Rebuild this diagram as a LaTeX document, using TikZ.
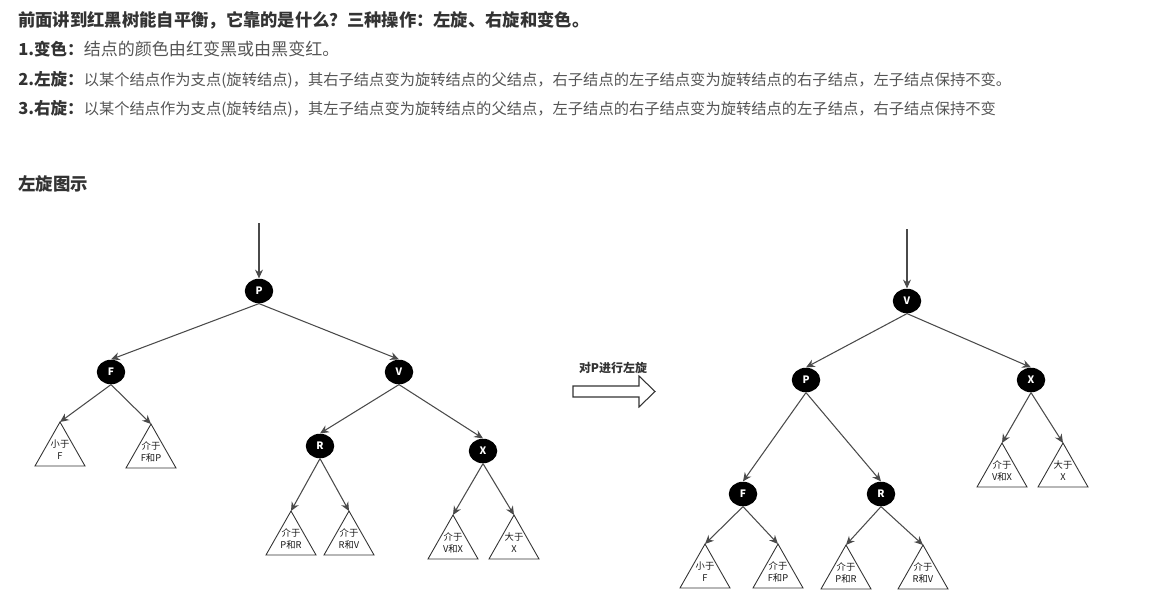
\documentclass[tikz,border=0pt]{standalone}
\usepackage{fontspec}
\setmainfont{Noto Sans CJK SC}
\usetikzlibrary{arrows.meta, shapes.geometric, positioning}
\definecolor{txtdark}{HTML}{333333}
\definecolor{txtgrey}{HTML}{555555}
\definecolor{edgegrey}{HTML}{4A4A4A}

\tikzset{
  rbnode/.style={ellipse, fill=black, text=white, font=\bfseries\fontsize{5.8}{7}\selectfont,
    minimum width=0.57cm, minimum height=0.49cm, inner sep=0pt},
  link/.style={draw=edgegrey, line width=0.6pt, -{Stealth[length=5pt,width=4.5pt]}},
  subtree/.style={draw=black!80, line width=0.5pt},
  sublabel/.style={font=\fontsize{5.3}{6.8}\selectfont, align=center, text=black!90, inner sep=0pt},
  textline/.style={anchor=base west, inner sep=0pt},
}
% subtree triangle: name, apex x, apex y, two text lines
\newcommand{\subtri}[5]{%
  \coordinate (#1) at (#2,#3);
  \draw[subtree] (#1) -- ++(-25,44) -- ++(50,0) -- cycle;
  \node[sublabel] (#1-t) at ([yshift=-0.56cm]#1) {#4\\#5};
}

\begin{document}
\begin{tikzpicture}[x=0.02cm, y=-0.02cm]
  \useasboundingbox (0,0) rectangle (1150,612);

  \node[textline, text=txtdark, font=\bfseries\fontsize{9.85}{11}\selectfont] (head) at (18,27)
    {前面讲到红黑树能自平衡，它靠的是什么？三种操作：左旋、右旋和变色。};
  \node[textline] (op1) at (18,55)
    {\textcolor{txtdark}{\bfseries\fontsize{9.4}{11}\selectfont 1.变色：}\textcolor{txtgrey}{\fontsize{9.7}{11}\selectfont 结点的颜色由红变黑或由黑变红。}};
  \node[textline] (op2) at (18,85)
    {\textcolor{txtdark}{\bfseries\fontsize{9.4}{11}\selectfont 2.左旋：}\textcolor{txtgrey}{\fontsize{8.7}{11}\selectfont 以某个结点作为支点(旋转结点)，其右子结点变为旋转结点的父结点，右子结点的左子结点变为旋转结点的右子结点，左子结点保持不变。}};
  \node[textline] (op3) at (18,114)
    {\textcolor{txtdark}{\bfseries\fontsize{9.4}{11}\selectfont 3.右旋：}\textcolor{txtgrey}{\fontsize{8.7}{11}\selectfont 以某个结点作为支点(旋转结点)，其左子结点变为旋转结点的父结点，左子结点的右子结点变为旋转结点的左子结点，右子结点保持不变}};
  \node[textline, text=txtdark, font=\bfseries\fontsize{9.9}{11}\selectfont] (title) at (18,190) {左旋图示};

  % before
  \coordinate (lin) at (259,223);
  \node[rbnode] (lp) at (259,291) {P};
  \node[rbnode] (lf) at (111,372) {F};
  \node[rbnode] (lv) at (399,372) {V};
  \node[rbnode] (lr) at (320,446) {R};
  \node[rbnode] (lx) at (483,451) {X};
  \subtri{lfa}{60}{422}{小于}{F}
  \subtri{lfb}{151}{424}{介于}{F和P}
  \subtri{lra}{291}{511}{介于}{P和R}
  \subtri{lrb}{349}{511}{介于}{R和V}
  \subtri{lxa}{453}{515}{介于}{V和X}
  \subtri{lxb}{514}{515}{大于}{X}

  % the rotation
  \draw[line width=0.6pt, draw=black!80] (573,386) -- (639,386) -- (639,376) -- (655,391.5)
    -- (639,407) -- (639,397) -- (573,397) -- cycle;
  \node[text=txtdark, font=\bfseries\fontsize{6.8}{8}\selectfont] (rot) at (613,368) {对P进行左旋};

  % after
  \coordinate (rin) at (907,229);
  \node[rbnode] (rv) at (907,301) {V};
  \node[rbnode] (rp) at (806,380) {P};
  \node[rbnode] (rx) at (1031,380) {X};
  \node[rbnode] (rf) at (743,494) {F};
  \node[rbnode] (rr) at (881,494) {R};
  \subtri{rfa}{705}{544}{小于}{F}
  \subtri{rfb}{778}{544}{介于}{F和P}
  \subtri{rra}{846}{545}{介于}{P和R}
  \subtri{rrb}{923}{545}{介于}{R和V}
  \subtri{rxa}{1002}{443}{介于}{V和X}
  \subtri{rxb}{1063}{443}{大于}{X}

  \draw[link] (lin) -- (lp.north);
  \draw[link] (rin) -- (rv.north);
  \foreach \a/\b in {lp/lf, lp/lv, lv/lr, lv/lx, rv/rp, rv/rx, rp/rf, rp/rr}
    \draw[link] (\a.south) -- (\b.north);
  \foreach \a/\b in {lf/lfa, lf/lfb, lr/lra, lr/lrb, lx/lxa, lx/lxb,
                     rf/rfa, rf/rfb, rr/rra, rr/rrb, rx/rxa, rx/rxb}
    \draw[link] (\a.south) -- (\b);
\end{tikzpicture}
\end{document}
